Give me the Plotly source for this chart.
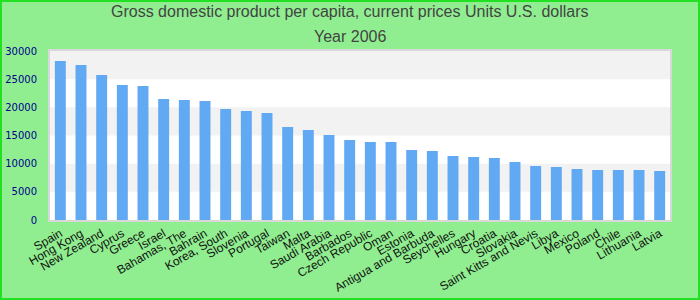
import plotly.graph_objects as go

countries = ["Spain", "Hong Kong", "New Zealand", "Cyprus", "Greece", "Israel",
             "Bahamas, The", "Bahrain", "Korea, South", "Slovenia", "Portugal",
             "Taiwan", "Malta", "Saudi Arabia", "Barbados", "Czech Republic", "Oman",
             "Estonia", "Antigua and Barbuda", "Seychelles", "Hungary", "Croatia",
             "Slovakia", "Saint Kitts and Nevis", "Libya", "Mexico", "Poland", "Chile",
             "Lithuania", "Latvia"]
gdp = [28230, 27520, 25740, 23970, 23790, 21480, 21300, 21120, 19700, 19350,
       18990, 16510, 15980, 15090, 14200, 13850, 13850, 12430, 12250, 11360,
       11180, 11010, 10300, 9590, 9410, 9050, 8880, 8880, 8880, 8700]
y_ticks = [0, 5000, 10000, 15000, 20000, 25000, 30000]
title_lines = ["Gross domestic product per capita, current prices Units U.S. dollars",
               "Year 2006"]

W, H = 700, 300
L, R, T, B = 50, 30, 51, 80
pw, ph = W - L - R, H - T - B

fig = go.Figure()
fig.add_trace(go.Bar(x=countries, y=gdp, marker=dict(color="#62a9f4", line_width=0),
                     width=0.53))

shapes = []
for i in range(len(y_ticks) - 1):
    if i % 2 == 1:
        shapes.append(dict(type="rect", xref="paper", yref="y", x0=0, x1=1,
                           y0=y_ticks[i], y1=y_ticks[i + 1], fillcolor="#f2f2f2",
                           line_width=0, layer="below"))
shapes.append(dict(type="rect", xref="paper", yref="paper",
                   x0=(-L + 1) / pw, x1=(W - L - 1) / pw,
                   y0=-(B - 1) / ph, y1=(H - B - 1) / ph,
                   line=dict(color="#22e022", width=2), fillcolor="rgba(0,0,0,0)"))

annotations = []
for k, (txt, yc) in enumerate(zip(title_lines, [12, 36])):
    annotations.append(dict(text=txt, xref="paper", yref="paper",
                            x=(350 - L) / pw, y=(H - B - yc) / ph,
                            xanchor="center", yanchor="middle", showarrow=False,
                            font=dict(family="Liberation Sans, Arial", size=16, color="#444444")))

fig.update_layout(
    width=W, height=H,
    margin=dict(l=L, r=R, t=T, b=B, autoexpand=False),
    paper_bgcolor="#90ee90", plot_bgcolor="#ffffff",
    shapes=shapes, annotations=annotations,
    showlegend=False,
    xaxis=dict(tickangle=-30, tickfont=dict(family="Liberation Sans, Arial", size=12, color="#111111"),
               showline=True, linecolor="#d8d8d8", linewidth=2, mirror=True,
               showgrid=False, ticks="", fixedrange=True, automargin=False),
    yaxis=dict(range=[0, 30000], tickvals=y_ticks, ticktext=[str(v) for v in y_ticks],
               tickfont=dict(family="DejaVu Sans", size=10, color="#00008b"),
               showline=True, linecolor="#d8d8d8", linewidth=2, mirror=True,
               showgrid=False, zeroline=False, ticks="", ticklabelstandoff=9,
               automargin=False),
)
fig.write_html("out.html")
